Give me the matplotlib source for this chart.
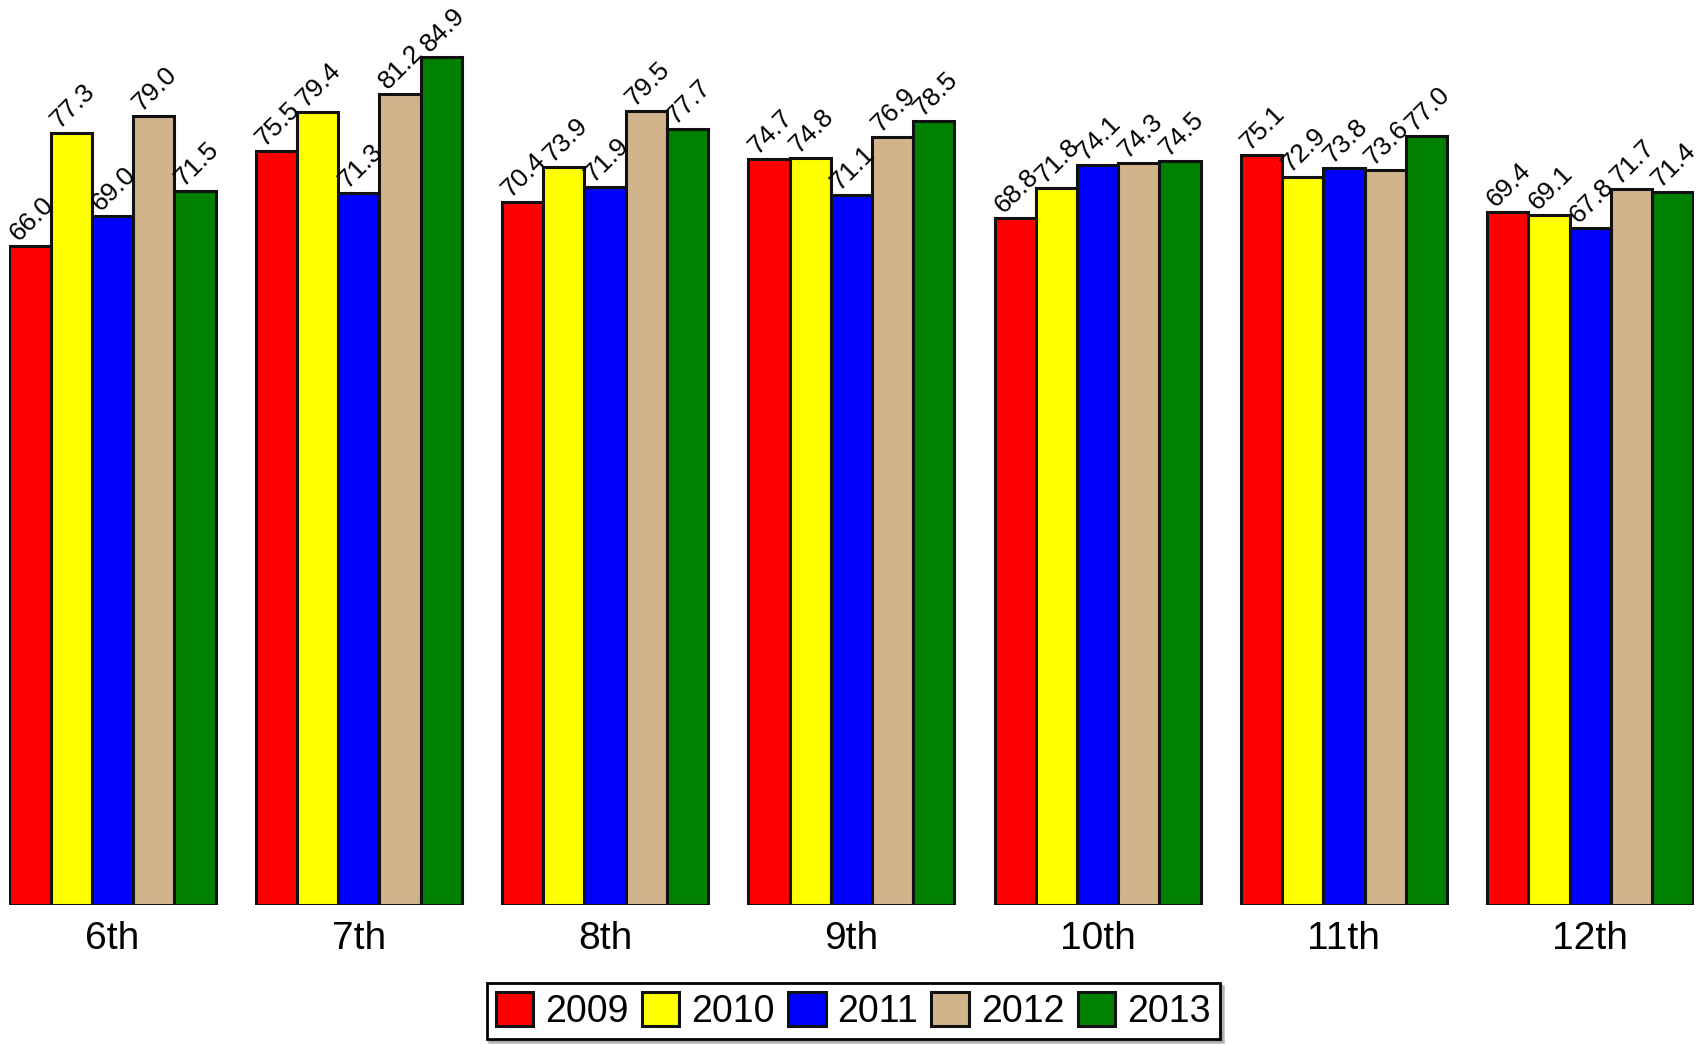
import numpy as np
import matplotlib
matplotlib.use("Agg")
import matplotlib.pyplot as plt

grades = ["6th", "7th", "8th", "9th", "10th", "11th", "12th"]
years = ["2009", "2010", "2011", "2012", "2013"]
colors = ["#ff0000", "#ffff00", "#0000ff", "#d2b48c", "#008000"]

v2009 = [66.0, 75.5, 70.4, 74.7, 68.8, 75.1, 69.4]
v2010 = [77.3, 79.4, 73.9, 74.8, 71.8, 72.9, 69.1]
v2011 = [69.0, 71.3, 71.9, 71.1, 74.1, 73.8, 67.8]
v2012 = [79.0, 81.2, 79.5, 76.9, 74.3, 73.6, 71.7]
v2013 = [71.5, 84.9, 77.7, 78.5, 74.5, 77.0, 71.4]
series = [v2009, v2010, v2011, v2012, v2013]

plt.rcParams["font.family"] = ["Liberation Sans", "DejaVu Sans"]

fig = plt.figure(figsize=(17.03, 10.45), dpi=100)
W, H = 1703, 1045
ax = fig.add_axes([8.7 / W, 140.3 / H, (1694 - 8.7) / W, 904.7 / H])

x = np.arange(len(grades))
w = 0.837 / len(years)
for i, (vals, year, col) in enumerate(zip(series, years, colors)):
    xs = x - 0.837 / 2 + w * i + w / 2
    ax.bar(xs, vals, w, color=col, edgecolor="#111111", linewidth=2.2,
           label=year)
    for xi, v in zip(xs, vals):
        ax.annotate(f"{v:.1f}", (xi - w / 2, v), xytext=(9, 0),
                    textcoords="offset points", rotation=45,
                    rotation_mode="anchor", ha="left", va="bottom",
                    fontsize=19, annotation_clip=False)

ax.set_xlim(-0.4185 - 0.003, len(grades) - 1 + 0.4185 + 0.003)
ax.set_ylim(0, 90.6)
for s in ax.spines.values():
    s.set_visible(False)
ax.set_yticks([])
ax.set_xticks(x)
ax.set_xticklabels(grades, fontsize=28)
ax.tick_params(axis="x", length=0, pad=12)

leg = fig.legend(loc="upper center", bbox_to_anchor=(0.501, 1 - 983 / H),
                 ncol=5, fontsize=27, frameon=True, fancybox=False,
                 shadow={"color": "#888888"}, borderaxespad=0,
                 handlelength=1.0, handleheight=1.0, handletextpad=0.32,
                 columnspacing=0.35, borderpad=0.25)
leg.get_frame().set_edgecolor("black")
leg.get_frame().set_linewidth(2)
leg.get_frame().set_alpha(1)

fig.savefig("out.png", dpi=100)
